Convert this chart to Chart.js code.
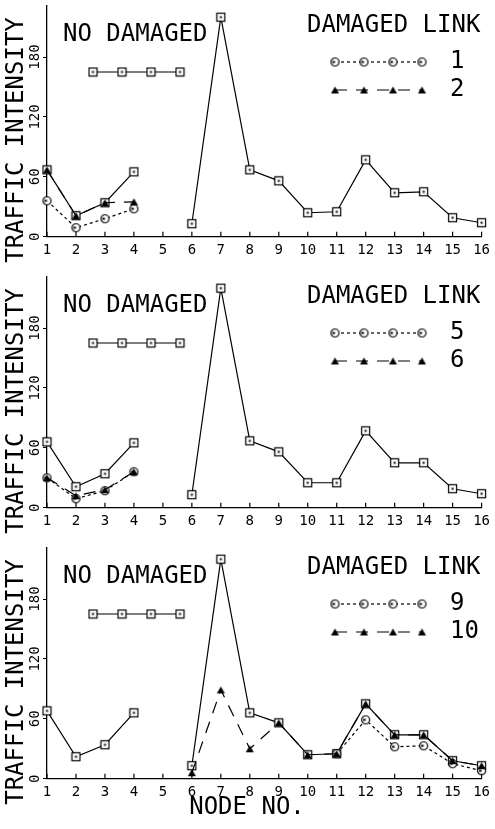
<!DOCTYPE html>
<html>
<head>
<meta charset="utf-8">
<script src="https://cdn.jsdelivr.net/npm/chart.js@4.4.1/dist/chart.umd.min.js"></script>
<style>
  html, body { margin: 0; padding: 0; background: #fff; }
  #wrap { position: relative; width: 495px; height: 829px; overflow: hidden; }
  .panel { position: absolute; left: 0; width: 495px; }
</style>
</head>
<body>
<div id="wrap">
  <div class="panel" style="top:0;height:271px"><canvas id="panel1"></canvas></div>
  <div class="panel" style="top:271px;height:271px"><canvas id="panel2"></canvas></div>
  <div class="panel" style="top:542px;height:287px"><canvas id="panel3"></canvas></div>
</div>
<script>
// nodes on the x axis, ticks on the y axis
const nodes = [1, 2, 3, 4, 5, 6, 7, 8, 9, 10, 11, 12, 13, 14, 15, 16];
const yTicks = [0, 60, 120, 180];

// panel 1 : damaged links 1 and 2
const noDamage1 = [67, 21, 34, 65, null, 13, 220, 67, 56, 24, 25, 77, 44, 45, 19, 14];
const link1 = [36, 9, 18, 28];
const link2 = [67, 21, 34, 35];

// panel 2 : damaged links 5 and 6
const noDamage2 = [66, 21, 34, 65, null, 13, 220, 67, 56, 25, 25, 77, 45, 45, 19, 14];
const link5 = [30, 9, 17, 36];
const link6 = [30, 12, 18, 36];

// panel 3 : damaged links 9 and 10
const noDamage3 = [68, 22, 34, 66, null, 13, 220, 66, 56, 24, 25, 75, 44, 44, 18, 13];
const link9 = [null, null, null, null, null, null, null, null, null, null, 25, 59, 32, 33, 15, 8];
const link10 = [null, null, null, null, null, 6, 89, 30, 56, 24, 25, 75, 44, 44, 18, 13];

const MONO = '"DejaVu Sans Mono", monospace';

// plotter style markers
function makeMarker(kind) {
  const c = document.createElement('canvas');
  c.width = 11; c.height = 11;
  const g = c.getContext('2d');
  g.strokeStyle = '#000'; g.fillStyle = '#fff'; g.lineWidth = 1.2;
  if (kind === 'square') {
    g.fillRect(1.5, 1.5, 8, 8); g.strokeRect(1.5, 1.5, 8, 8);
    g.fillStyle = '#000'; g.fillRect(4.5, 4.5, 2, 2);
  } else if (kind === 'circle') {
    g.beginPath(); g.arc(5.5, 5.5, 4, 0, Math.PI * 2); g.fill(); g.stroke();
    g.fillStyle = '#000'; g.fillRect(3, 4.5, 2.5, 2);
  } else {
    g.fillStyle = '#000';
    g.beginPath(); g.moveTo(5.5, 2); g.lineTo(9.5, 9); g.lineTo(1.5, 9); g.closePath(); g.fill();
  }
  return c;
}
const markers = { square: makeMarker('square'), circle: makeMarker('circle'), triangle: makeMarker('triangle') };
const dashes = { square: [], circle: [3, 3], triangle: [12, 9] };
// squares drawn first, triangles last (on top), like the overlapping plotter marks
const drawOrder = { square: 3, circle: 2, triangle: 1 };

function lineSet(data, kind) {
  return {
    data: data,
    order: drawOrder[kind],
    borderColor: '#000',
    borderWidth: 1.2,
    borderDash: dashes[kind],
    pointStyle: markers[kind],
    pointRadius: 4,
    fill: false,
    tension: 0,
    clip: false
  };
}

// legend, axis names and inner x ticks
const decor = {
  id: 'decor',
  afterDraw(chart, args, opts) {
    const ctx = chart.ctx;
    const area = chart.chartArea;
    const xs = chart.scales.x;
    ctx.save();
    ctx.strokeStyle = '#000';
    ctx.lineWidth = 1.2;
    nodes.forEach((n, i) => {
      const px = xs.getPixelForValue(i);
      ctx.beginPath(); ctx.moveTo(px, area.bottom); ctx.lineTo(px, area.bottom - 5); ctx.stroke();
    });

    ctx.fillStyle = '#000';
    ctx.font = '24px ' + MONO;
    ctx.textBaseline = 'middle';
    ctx.textAlign = 'left';
    ctx.fillText('NO DAMAGED', 63, 35);
    ctx.fillText('DAMAGED LINK', 307, 26);

    const sample = (y, kind, x0, label) => {
      const xsPos = [x0, x0 + 29, x0 + 58, x0 + 87];
      ctx.save();
      ctx.setLineDash(dashes[kind]);
      ctx.beginPath(); ctx.moveTo(xsPos[0], y); ctx.lineTo(xsPos[3], y); ctx.stroke();
      ctx.restore();
      xsPos.forEach(px => ctx.drawImage(markers[kind], px - 5.5, y - 5.5));
      if (label) ctx.fillText(label, 450, y);
    };
    sample(72, 'square', 93, null);
    sample(62, 'circle', 335, opts.links[0]);
    sample(90, 'triangle', 335, opts.links[1]);

    ctx.save();
    ctx.translate(17, 140);
    ctx.rotate(-Math.PI / 2);
    ctx.textAlign = 'center';
    ctx.fillText('TRAFFIC INTENSITY', 0, 0);
    ctx.restore();

    if (opts.nodeTitle) {
      ctx.textAlign = 'center';
      ctx.fillText('NODE NO.', 247, 266);
    }
    ctx.restore();
  }
};

function drawPanel(id, series, links, height, nodeTitle) {
  new Chart(document.getElementById(id), {
    type: 'line',
    data: {
      labels: nodes.map(String),
      datasets: [
        lineSet(series[0], 'square'),
        lineSet(series[1], 'circle'),
        lineSet(series[2], 'triangle')
      ]
    },
    options: {
      responsive: true,
      maintainAspectRatio: false,
      animation: false,
      events: [],
      layout: { padding: { top: 4, right: 11.7, bottom: 0, left: 0 } },
      plugins: {
        legend: { display: false },
        tooltip: { enabled: false },
        decor: { links: links, nodeTitle: nodeTitle }
      },
      scales: {
        x: {
          type: 'category',
          offset: false,
          grid: { display: false, drawTicks: false },
          border: { display: true, color: '#000', width: 1.3 },
          ticks: { color: '#000', font: { family: MONO, size: 14 }, padding: 5, autoSkip: false, maxRotation: 0 },
          afterFit: s => { s.height = height - 236.7; }
        },
        y: {
          min: 0,
          max: 232,
          afterBuildTicks: s => { s.ticks = yTicks.map(v => ({ value: v })); },
          grid: { drawOnChartArea: false, drawTicks: true, tickLength: 4, color: '#000' },
          border: { display: true, color: '#000', width: 1.3 },
          ticks: {
            color: '#000', font: { family: MONO, size: 14 },
            minRotation: 90, maxRotation: 90, crossAlign: 'center', padding: -5.5
          },
          afterFit: s => { s.width = 47; }
        }
      }
    },
    plugins: [decor]
  });
}

drawPanel('panel1', [noDamage1, link1, link2], ['1', '2'], 271, false);
drawPanel('panel2', [noDamage2, link5, link6], ['5', '6'], 271, false);
drawPanel('panel3', [noDamage3, link9, link10], ['9', '10'], 287, true);
</script>
</body>
</html>
